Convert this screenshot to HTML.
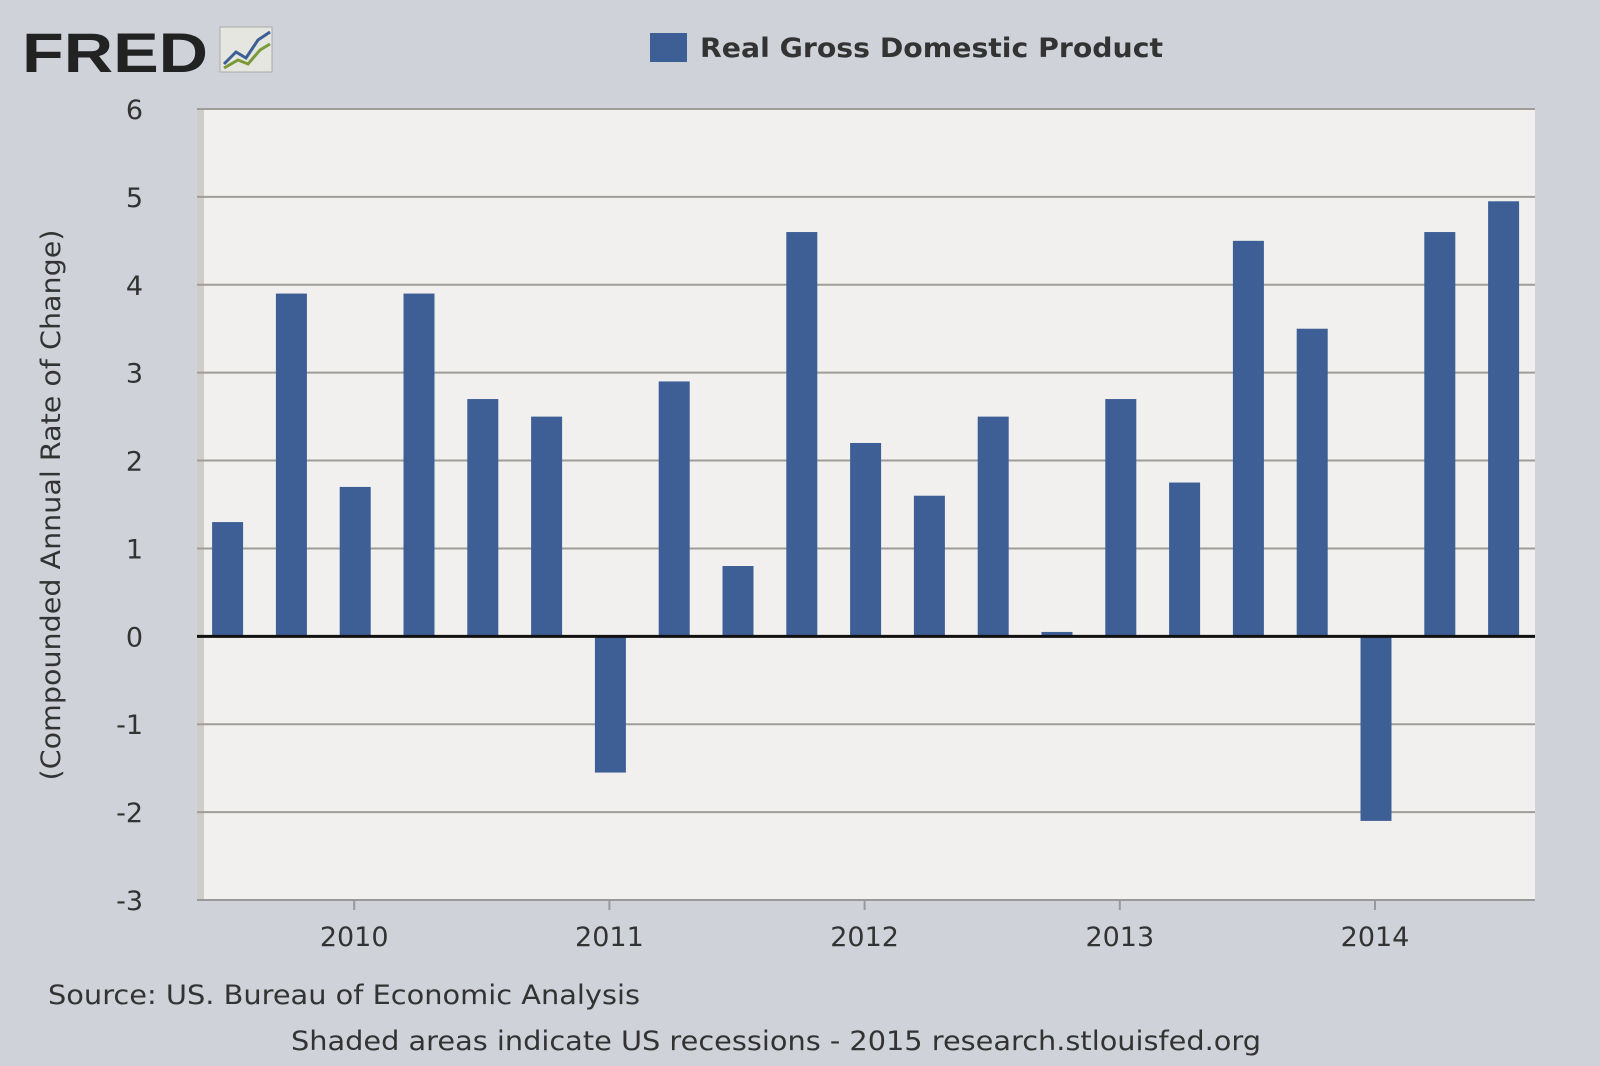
<!DOCTYPE html>
<html><head><meta charset="utf-8"><style>
body{margin:0;width:1600px;height:1062px;background:#cfd2d8;font-family:"DejaVu Sans","Liberation Sans",sans-serif;overflow:hidden}
text{font-family:"DejaVu Sans","Liberation Sans",sans-serif}
</style></head><body>
<svg width="1600" height="1062" viewBox="0 0 1600 1062">
<g>
<text x="22" y="72" font-size="56" font-weight="bold" fill="#222" textLength="186" lengthAdjust="spacingAndGlyphs" style="font-family:'Liberation Sans',sans-serif">FRED</text>
<rect x="220" y="27" width="52" height="45" fill="#e6e6e0" stroke="#aaa"/>
<polyline points="224,64 236,52 246,58 258,40 270,32" fill="none" stroke="#3d5f96" stroke-width="3"/>
<polyline points="224,68 238,60 248,64 260,50 270,44" fill="none" stroke="#7a9a3a" stroke-width="3"/>
</g>
<g>
<rect x="650" y="33" width="37" height="29" fill="#3d5f96"/>
<text x="700" y="57" font-size="27" font-weight="bold" fill="#333" textLength="463" lengthAdjust="spacingAndGlyphs">Real Gross Domestic Product</text>
</g>
<rect x="197" y="109" width="1338" height="791" fill="#f1f0ee"/>
<rect x="197" y="109" width="7" height="791" fill="#cfcdc7"/>
<g id="grid"></g>
<g id="bars"></g>
<g id="axes"></g>
<text transform="translate(60,505) rotate(-90)" text-anchor="middle" font-size="27" fill="#333" textLength="551" lengthAdjust="spacingAndGlyphs">(Compounded Annual Rate of Change)</text>
<text x="48" y="1004" font-size="27" fill="#333" textLength="592" lengthAdjust="spacingAndGlyphs">Source: US. Bureau of Economic Analysis</text>
<text x="291" y="1050" font-size="27" fill="#333" textLength="970" lengthAdjust="spacingAndGlyphs">Shaded areas indicate US recessions - 2015 research.stlouisfed.org</text>
</svg>
<script>
const quarters=["2009Q3","2009Q4","2010Q1","2010Q2","2010Q3","2010Q4","2011Q1","2011Q2","2011Q3","2011Q4","2012Q1","2012Q2","2012Q3","2012Q4","2013Q1","2013Q2","2013Q3","2013Q4","2014Q1","2014Q2","2014Q3"];
const gdp=[1.3,3.9,1.7,3.9,2.7,2.5,-1.55,2.9,0.8,4.6,2.2,1.6,2.5,0.05,2.7,1.75,4.5,3.5,-2.1,4.6,4.95];
const yTicks=[6,5,4,3,2,1,0,-1,-2,-3];
const xYears=["2010","2011","2012","2013","2014"];
const xYearIdx=[2,6,10,14,18];
const NS="http://www.w3.org/2000/svg";
const L=197,R=1535,T=109,B=900,ymin=-3,ymax=6;
const y=v=>T+(ymax-v)/(ymax-ymin)*(B-T);
const x=i=>227.6+i*63.8;
function mk(tag,attrs,parent){const e=document.createElementNS(NS,tag);for(const k in attrs)e.setAttribute(k,attrs[k]);document.getElementById(parent).appendChild(e);return e;}
yTicks.forEach(v=>{
 if(v!==ymin&&v!==0){const g=mk("line",{x1:L,x2:R,y1:y(v),y2:y(v),stroke:"#a09c98","stroke-width":2},"grid");
 
 }
 const t=mk("text",{x:143,y:y(v)+10,"text-anchor":"end","font-size":27,fill:"#333"},"axes");t.textContent=v;
 
 
});
gdp.forEach((v,i)=>{
 const top=Math.min(y(v),y(0)),h=Math.abs(y(v)-y(0));
 const b=mk("rect",{x:x(i)-15.5,y:top,width:31,height:Math.max(h,1),fill:"#3d5f96"},"bars");
 
 
});
const z=mk("line",{x1:L,x2:R,y1:y(0),y2:y(0),stroke:"#111","stroke-width":3},"axes");


const xa=mk("line",{x1:L,x2:R,y1:B,y2:B,stroke:"#999","stroke-width":2},"axes");


xYears.forEach((yr,k)=>{
 const px=x(xYearIdx[k])-1;
 const tk=mk("line",{x1:px,x2:px,y1:B,y2:B+10,stroke:"#999","stroke-width":2},"axes");
 
 
 const t=mk("text",{x:px,y:946,"text-anchor":"middle","font-size":27,fill:"#333"},"axes");t.textContent=yr;
 
 
});
</script>
</body></html>
